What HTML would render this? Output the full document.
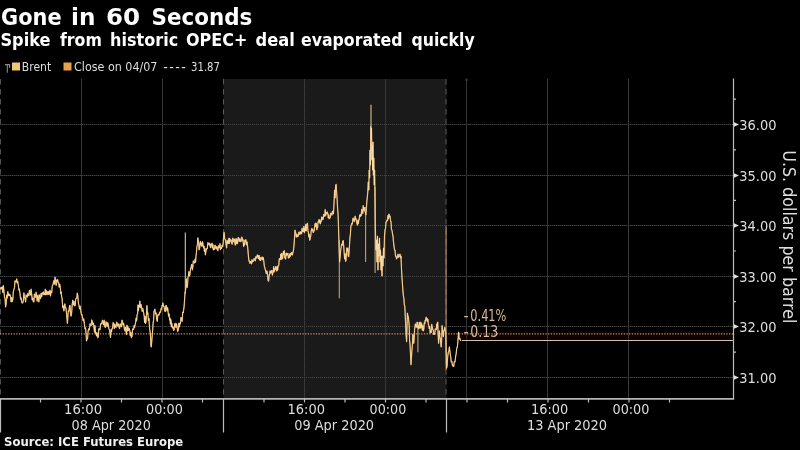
<!DOCTYPE html>
<html><head><meta charset="utf-8"><style>
html,body{margin:0;padding:0;background:#000;width:800px;height:450px;overflow:hidden}
svg{display:block}
.g0{stroke:#232323;stroke-width:1}
.g{stroke:#404040;stroke-width:1;stroke-dasharray:1,1}
.gv{stroke:#2e2e2e;stroke-width:1}
.ax{stroke:#bdbdbd;stroke-width:1.2}
text{font-family:"DejaVu Sans Condensed","DejaVu Sans",sans-serif;fill:#dedede}
.yl{font-size:14.8px}
.xl{font-size:14.2px}
.pl{font-size:15.6px;fill:#dcb894}
.yt{font-size:17.4px}
.lg{font-size:12.6px}
.t1{font-family:"DejaVu Sans",sans-serif;font-weight:bold;font-size:23px;fill:#fff}
.t2{font-family:"DejaVu Sans",sans-serif;font-weight:bold;font-size:17.2px;fill:#fff}
.src{font-family:"DejaVu Sans",sans-serif;font-weight:bold;font-size:11.7px;fill:#f0f0f0}
</style></head><body>
<svg width="800" height="450" viewBox="0 0 800 450">
<rect x="223.5" y="79" width="223" height="320" fill="#1a1a1a"/>
<line x1="0" y1="124.5" x2="733" y2="124.5" class="g0"/>
<line x1="0" y1="124.5" x2="733" y2="124.5" class="g"/>
<line x1="0" y1="175.5" x2="733" y2="175.5" class="g0"/>
<line x1="0" y1="175.5" x2="733" y2="175.5" class="g"/>
<line x1="0" y1="225.5" x2="733" y2="225.5" class="g0"/>
<line x1="0" y1="225.5" x2="733" y2="225.5" class="g"/>
<line x1="0" y1="276.5" x2="733" y2="276.5" class="g0"/>
<line x1="0" y1="276.5" x2="733" y2="276.5" class="g"/>
<line x1="0" y1="326.5" x2="733" y2="326.5" class="g0"/>
<line x1="0" y1="326.5" x2="733" y2="326.5" class="g"/>
<line x1="0" y1="377.5" x2="733" y2="377.5" class="g0"/>
<line x1="0" y1="377.5" x2="733" y2="377.5" class="g"/>
<line x1="81.5" y1="79" x2="81.5" y2="398" class="gv"/>
<line x1="81.5" y1="79" x2="81.5" y2="398" class="g"/>
<line x1="162.5" y1="79" x2="162.5" y2="398" class="gv"/>
<line x1="162.5" y1="79" x2="162.5" y2="398" class="g"/>
<line x1="304.5" y1="79" x2="304.5" y2="398" class="gv"/>
<line x1="304.5" y1="79" x2="304.5" y2="398" class="g"/>
<line x1="385.5" y1="79" x2="385.5" y2="398" class="gv"/>
<line x1="385.5" y1="79" x2="385.5" y2="398" class="g"/>
<line x1="547.5" y1="79" x2="547.5" y2="398" class="gv"/>
<line x1="547.5" y1="79" x2="547.5" y2="398" class="g"/>
<line x1="628.5" y1="79" x2="628.5" y2="398" class="gv"/>
<line x1="628.5" y1="79" x2="628.5" y2="398" class="g"/>
<line x1="446" y1="79" x2="446" y2="398" stroke="#585858" stroke-width="1" stroke-dasharray="5.5,4.5"/>
<line x1="223.5" y1="79" x2="223.5" y2="398" stroke="#585858" stroke-width="1" stroke-dasharray="5.5,4.5"/>
<line x1="0.5" y1="79" x2="0.5" y2="398" stroke="#505050" stroke-width="1" stroke-dasharray="5.5,4.5"/>
<line x1="466.5" y1="80" x2="466.5" y2="398" stroke="#333" stroke-width="1"/>
<path d="M464.5 80.5 L466.5 78.3 L468.5 80.5 Z" fill="#3a3a3a"/>
<rect x="447" y="332" width="286" height="9" fill="#3c0c06" fill-opacity="0.22"/>
<line x1="0" y1="333.8" x2="733" y2="333.8" stroke="#c49066" stroke-width="1.15" stroke-dasharray="1.3,1.4"/>
<line x1="462" y1="340.5" x2="733" y2="340.5" stroke="#d4beb6" stroke-width="1.2"/>
<line x1="185.3" y1="232.4" x2="185.3" y2="294" stroke="#d8c4a0" stroke-width="1.1"/>
<line x1="339.3" y1="240" x2="339.3" y2="298.3" stroke="#b8a07c" stroke-width="1.1"/>
<line x1="365.6" y1="207" x2="365.6" y2="262" stroke="#c0a070" stroke-width="1.1"/>
<line x1="375.1" y1="187" x2="375.1" y2="273" stroke="#c0a070" stroke-width="1.1"/>
<line x1="417.9" y1="322" x2="417.9" y2="352.2" stroke="#c0a484" stroke-width="1.1"/>
<line x1="446.1" y1="225.7" x2="446.1" y2="370" stroke="#b89060" stroke-width="1.1"/>
<line x1="371" y1="104.8" x2="371" y2="126" stroke="#e0c090" stroke-width="1.1"/>
<polyline points="0.0,288.3 0.6,289.0 1.1,287.0 1.7,289.0 2.2,287.2 2.8,292.4 3.3,285.5 3.9,290.5 4.5,297.4 5.0,298.0 5.6,307.0 6.2,303.6 6.7,295.0 7.2,298.2 7.8,291.6 8.3,295.7 8.9,293.9 9.5,295.6 10.0,294.7 10.6,297.0 11.1,301.8 11.7,297.6 12.2,301.7 12.8,299.6 13.3,292.0 13.9,289.4 14.5,287.6 15.0,280.8 15.6,281.7 16.1,281.9 16.7,278.9 17.2,282.9 17.8,281.6 18.3,285.0 18.9,290.2 19.4,289.0 20.0,293.9 20.6,299.2 21.1,297.8 21.7,301.7 22.2,303.1 22.8,302.8 23.4,300.2 23.9,292.8 24.4,297.3 25.0,298.3 25.6,302.0 26.1,294.9 26.7,296.1 27.2,297.1 27.8,293.3 28.3,295.0 28.9,295.8 29.4,290.3 30.0,292.2 30.6,295.1 31.1,289.2 31.7,294.4 32.2,299.8 32.8,298.0 33.3,301.7 33.9,302.0 34.4,294.0 35.0,296.1 35.6,297.3 36.1,292.2 36.7,297.2 37.2,301.1 37.8,295.2 38.3,298.3 38.9,301.9 39.4,294.8 40.0,297.2 40.5,298.8 41.1,293.4 41.7,296.6 42.2,292.8 42.8,293.9 43.3,291.9 43.9,294.9 44.4,293.3 44.9,294.4 45.3,289.2 45.8,295.0 46.2,290.6 46.7,292.8 47.2,294.6 47.8,291.5 48.4,294.4 48.9,291.7 49.5,294.2 50.0,290.1 50.5,296.0 51.1,291.7 51.7,292.6 52.2,286.2 52.8,285.0 53.3,283.5 53.9,280.6 54.5,284.1 55.0,277.2 55.6,281.1 56.2,285.3 56.8,279.8 57.2,281.4 57.7,279.7 58.1,282.6 58.6,282.4 59.2,287.2 59.7,284.2 60.3,287.8 60.8,293.7 61.2,291.9 61.6,296.7 62.1,298.4 62.7,307.6 63.3,305.8 63.9,310.9 64.8,303.8 65.4,308.0 66.0,307.9 66.6,314.4 67.4,323.3 68.3,310.9 68.9,311.4 69.5,305.9 70.1,305.6 70.5,313.4 71.0,316.2 71.6,313.3 72.2,304.4 72.8,300.2 73.4,305.0 74.0,301.3 74.6,305.6 75.2,305.6 75.7,299.0 76.3,298.4 76.8,298.2 77.3,293.1 77.8,295.8 78.4,303.0 79.0,305.6 79.6,309.0 80.2,306.2 80.8,310.9 81.4,314.7 82.0,314.5 82.6,318.0 83.2,320.9 83.7,318.8 84.3,323.3 84.9,328.6 85.5,327.9 86.1,334.0 86.5,341.0 87.0,339.3 87.6,338.2 88.2,330.5 88.8,328.7 89.4,330.0 90.0,323.8 90.6,325.1 91.2,325.5 91.7,319.9 92.3,321.6 92.9,325.0 93.5,323.0 94.1,328.7 94.5,332.1 95.0,325.7 95.5,333.5 95.9,332.2 96.5,335.9 97.1,332.8 97.7,337.6 98.3,336.8 98.8,328.8 99.4,328.7 100.0,329.6 100.6,324.0 101.2,323.3 101.8,324.0 102.4,320.2 103.0,321.6 103.6,325.0 104.2,320.2 104.8,326.9 105.4,327.4 106.0,321.7 106.6,323.3 107.2,326.7 107.7,322.6 108.3,325.1 108.9,328.7 109.5,330.0 110.1,334.0 110.5,337.4 111.0,329.6 111.5,332.0 111.9,328.7 112.5,328.7 113.1,322.6 113.7,323.3 114.3,328.7 114.8,324.4 115.4,326.9 116.0,327.5 116.6,322.1 117.2,323.3 117.8,326.2 118.4,323.9 119.0,326.9 119.6,328.6 120.2,323.8 120.8,325.1 121.4,326.8 122.0,320.1 122.6,321.6 123.2,325.2 123.7,323.5 124.3,328.7 124.9,330.8 125.5,327.1 126.1,332.2 126.5,334.4 127.0,325.1 127.5,331.0 127.9,326.9 128.5,330.4 129.1,328.3 129.7,330.4 130.3,335.7 130.8,332.3 131.4,337.6 132.0,336.4 132.6,329.1 133.2,328.7 133.6,329.4 134.1,325.5 134.6,327.4 135.0,325.1 135.5,323.1 136.1,318.1 136.6,320.8 137.1,314.4 137.6,314.0 138.0,304.9 138.4,310.7 138.9,305.6 139.4,306.9 139.8,301.1 140.4,307.8 141.0,304.3 141.6,307.3 142.2,311.3 142.7,308.5 143.3,310.9 144.2,316.2 144.6,322.5 145.1,316.6 145.6,323.4 146.0,321.6 146.4,315.2 146.9,305.6 147.4,314.1 147.8,312.7 148.4,320.6 149.0,318.6 149.6,328.7 150.4,334.0 150.9,345.3 151.3,347.0 152.2,335.8 152.6,331.0 153.1,323.3 153.6,319.9 154.0,310.9 154.4,310.9 154.9,309.1 155.5,313.8 156.1,312.9 156.7,319.8 157.3,321.4 157.8,314.9 158.4,314.4 159.0,315.1 159.6,312.2 160.2,312.7 160.6,311.6 161.1,308.5 161.6,309.3 162.0,305.6 162.4,306.0 162.9,302.9 163.5,306.4 164.1,306.6 164.7,310.9 165.3,311.7 165.8,305.6 166.4,305.6 167.0,310.9 167.6,307.7 168.2,312.7 168.6,316.2 169.1,313.9 169.6,319.9 170.0,318.0 170.4,323.9 170.9,319.7 171.4,326.7 171.8,323.3 172.4,327.9 173.0,326.9 173.6,330.4 174.2,329.7 174.7,324.0 175.3,323.3 175.9,327.4 176.5,323.8 177.1,326.9 177.6,331.6 178.0,330.4 178.4,330.1 178.9,323.0 179.4,326.9 179.8,323.3 180.4,323.9 181.0,317.4 181.6,319.8 182.2,321.3 182.7,312.0 183.3,312.7 184.2,305.6 185.0,293.1 185.6,290.0 186.2,278.7 186.6,284.3 187.1,287.6 187.6,284.1 188.0,276.9 188.4,276.4 188.9,271.6 189.4,276.1 189.8,275.1 190.7,268.0 191.1,267.6 191.6,264.4 192.4,269.8 192.9,266.3 193.3,260.9 194.2,262.7 194.6,263.0 195.1,259.1 195.6,262.1 196.0,255.6 196.4,253.3 196.9,246.7 197.4,244.8 197.8,237.8 198.7,243.1 199.1,249.8 199.6,248.4 200.4,241.3 200.9,244.8 201.3,243.1 201.9,246.3 202.5,241.6 203.1,244.9 203.6,248.0 204.0,246.0 204.4,251.3 204.9,248.4 205.4,255.0 205.8,252.0 206.7,248.4 207.3,248.7 207.8,242.6 208.4,243.1 209.0,244.9 209.6,243.1 210.2,246.7 210.6,247.7 211.1,244.1 211.6,245.2 212.0,243.1 212.4,248.0 212.9,244.7 213.4,250.0 213.8,248.4 214.4,249.4 215.0,245.0 215.6,246.7 216.2,249.1 216.7,246.5 217.3,247.6 217.9,250.8 218.5,245.7 219.1,246.7 219.6,247.6 220.0,243.6 220.4,249.6 220.9,247.6 221.5,248.6 222.1,245.3 222.7,246.7 223.2,242.8 223.6,236.1 224.1,232.4 224.7,238.8 225.3,239.6 226.2,244.9 226.6,248.0 227.1,240.2 227.6,243.4 228.0,241.3 228.4,243.5 228.9,238.0 229.4,243.5 229.8,238.7 230.4,241.1 231.0,239.8 231.6,243.1 232.2,244.2 232.7,238.0 233.3,239.6 233.9,242.0 234.5,239.1 235.1,244.9 235.6,244.9 236.0,238.5 236.4,243.5 236.9,239.6 237.5,243.6 238.1,237.5 238.7,237.8 239.3,241.3 239.8,238.8 240.4,241.3 241.0,241.7 241.6,237.0 242.2,237.8 242.6,240.8 243.1,239.7 243.6,246.5 244.0,243.1 244.4,245.1 244.9,240.1 245.4,241.5 245.8,239.6 246.4,244.9 247.0,241.8 247.6,246.7 248.4,255.6 248.9,261.0 249.3,260.9 249.9,263.4 250.5,261.4 251.1,262.7 251.6,263.9 252.0,259.7 252.4,262.1 252.9,260.9 253.5,261.2 254.1,258.3 254.7,259.1 255.3,260.9 255.8,256.7 256.4,257.3 256.8,258.2 257.3,254.9 257.8,257.0 258.2,255.6 258.6,258.8 259.1,255.3 259.6,259.9 260.0,257.3 260.3,260.4 260.8,260.5 261.2,257.8 261.7,258.6 262.1,256.9 262.7,259.9 263.3,257.7 263.9,262.2 264.4,266.5 264.8,267.6 265.7,271.1 266.3,273.6 266.8,270.9 267.4,272.9 268.1,280.5 268.6,281.2 269.2,274.7 269.6,274.7 270.1,270.8 270.6,273.1 271.0,271.1 271.4,272.7 271.9,270.3 272.4,275.1 272.8,272.9 273.2,272.7 273.7,266.6 274.2,271.9 274.6,269.3 275.2,269.9 275.7,266.5 276.3,269.3 276.8,271.1 277.2,266.4 277.7,270.0 278.1,265.8 278.7,265.7 279.3,258.7 279.9,258.7 280.3,259.8 280.8,254.1 281.2,259.3 281.7,253.3 282.1,258.8 282.6,258.7 283.4,251.6 283.8,254.3 284.3,250.7 284.8,257.9 285.2,256.9 285.6,259.1 286.1,253.1 286.6,255.3 287.0,253.3 287.4,254.8 287.9,253.4 288.4,258.1 288.8,256.9 289.2,257.7 289.7,253.9 290.2,256.5 290.6,253.3 291.2,254.6 291.7,252.3 292.3,255.1 293.2,251.6 293.6,249.2 294.1,244.4 295.0,230.2 295.9,233.8 296.3,237.1 296.8,234.0 297.2,236.8 297.7,235.6 298.3,236.1 298.8,232.0 299.4,233.8 299.8,234.4 300.3,231.6 300.8,233.6 301.2,232.0 301.6,234.0 302.1,228.2 302.6,231.7 303.0,230.2 303.4,231.4 303.9,226.4 304.4,232.7 304.8,228.4 305.2,230.9 305.7,224.4 306.2,231.0 306.6,226.7 307.4,223.1 307.9,230.3 308.3,232.0 308.8,236.8 309.2,234.2 309.7,240.2 310.1,239.1 310.7,236.2 311.3,230.5 311.9,228.4 312.3,230.7 312.8,229.6 313.2,232.5 313.7,232.0 314.3,229.9 314.8,225.0 315.4,223.1 315.8,226.6 316.3,223.3 316.8,229.8 317.2,226.7 317.6,227.7 318.1,221.7 318.6,222.0 319.0,219.6 319.4,222.6 319.9,219.8 320.4,224.0 320.8,221.3 321.2,221.6 321.7,216.8 322.2,219.9 322.6,217.8 323.2,219.3 323.7,214.3 324.3,216.0 324.8,216.4 325.2,209.6 325.7,215.4 326.1,212.4 326.7,213.7 327.3,211.9 327.9,214.2 328.3,218.0 328.8,214.8 329.2,218.7 329.7,217.8 330.3,217.6 330.8,213.0 331.4,214.2 331.9,215.1 332.5,211.0 333.4,214.0 334.2,200.0 334.6,190.0 335.1,198.0 335.6,186.0 336.1,184.4 336.6,192.0 337.2,200.2 337.6,208.7 338.1,214.4 338.9,240.0 339.6,262.0 340.1,257.5 340.7,250.0 341.1,247.9 341.6,244.2 342.2,245.4 342.7,241.1 343.3,240.7 344.2,253.1 344.6,259.0 345.1,253.7 345.6,261.4 346.0,260.2 346.9,247.8 347.3,250.8 347.8,248.2 348.2,256.1 348.7,256.7 349.3,248.8 349.9,237.6 350.4,234.5 350.8,226.9 351.7,223.3 352.3,224.2 352.8,218.9 353.4,218.0 353.9,221.1 354.3,221.6 355.2,216.2 355.6,219.5 356.1,218.7 356.6,222.7 357.0,223.3 357.4,225.1 357.9,220.2 358.4,223.7 358.8,219.8 359.2,219.6 359.7,214.9 360.2,216.6 360.6,214.4 361.2,215.8 361.7,209.3 362.3,210.9 362.8,213.6 363.2,205.7 363.7,210.2 364.1,207.3 364.8,211.1 365.4,212.0 365.8,215.0 366.3,210.2 366.8,202.0 367.7,193.1 368.3,182.0 368.8,190.0 369.2,170.0 369.6,178.0 370.0,150.0 370.4,165.0 370.8,126.0 371.2,140.0 371.5,128.0 371.9,160.0 372.2,145.0 372.6,170.0 373.0,142.0 373.4,175.0 373.8,158.0 374.2,185.0 374.6,170.0 374.9,190.0 375.4,230.0 376.0,250.0 376.5,240.0 377.0,262.0 377.5,236.0 378.0,270.0 378.5,244.0 379.0,256.0 379.5,238.0 380.0,262.0 380.5,250.0 381.0,270.0 381.5,256.0 382.0,276.0 382.5,256.0 383.0,266.0 383.5,248.0 384.0,258.0 384.5,236.0 385.0,230.0 385.5,228.5 386.0,222.0 386.5,221.9 387.0,220.0 387.5,220.6 388.0,215.5 388.5,218.9 389.0,214.0 389.5,217.0 390.0,216.0 390.5,220.1 391.0,222.0 391.5,229.7 392.0,230.0 392.5,234.0 393.0,236.0 393.5,242.1 394.0,246.0 394.5,249.9 395.0,250.0 395.5,256.2 396.0,256.0 396.5,258.9 397.0,258.0 397.5,256.8 398.0,254.0 398.5,257.3 399.0,256.0 399.5,256.3 400.0,254.0 400.5,257.9 401.0,256.0 401.5,269.0 402.0,278.0 402.9,290.4 403.4,295.6 403.8,297.6 404.3,304.8 404.8,306.0 405.7,325.6 406.1,334.7 406.6,341.6 407.4,313.1 407.9,316.0 408.3,316.7 409.2,325.6 409.6,340.2 410.1,345.1 411.0,364.7 411.9,350.4 412.4,345.0 412.8,334.4 413.7,343.3 414.1,338.9 414.6,329.1 415.4,323.8 415.9,326.5 416.3,327.3 417.2,322.0 417.8,328.0 418.3,325.6 418.8,329.0 419.4,322.4 419.9,327.3 420.3,328.2 420.8,322.0 421.2,327.5 421.7,323.8 422.3,330.2 422.8,325.6 423.4,330.9 423.8,329.1 424.3,322.6 424.8,323.6 425.2,320.2 425.6,321.3 426.1,317.2 426.6,319.8 427.0,318.4 427.4,321.3 427.9,319.4 428.4,324.8 428.8,325.6 429.2,328.5 429.7,326.7 430.2,333.1 430.6,330.9 431.2,332.5 431.7,324.3 432.3,327.3 432.8,329.8 433.2,330.0 433.7,334.5 434.1,334.4 434.7,334.0 435.3,328.9 435.9,329.1 436.3,329.5 436.8,323.9 437.2,328.1 437.7,322.0 438.1,333.8 438.6,343.3 439.4,330.9 439.8,337.4 440.3,337.9 440.8,343.8 441.2,346.9 441.6,340.2 442.1,325.6 443.0,334.4 443.4,336.6 443.9,330.2 444.4,329.9 444.8,327.3 445.7,332.7 446.6,368.2 447.2,365.3 447.7,356.8 448.3,352.2 448.9,351.1 449.4,346.9 450.0,352.7 450.7,356.7 451.3,362.1 451.9,361.6 452.5,366.0 453.1,365.2 453.7,366.4 454.3,361.6 455.0,362.0 455.6,356.7 456.2,353.4 456.8,348.1 457.4,346.7 458.0,339.6 458.6,332.2 459.2,339.0 459.8,338.3 460.5,340.5 461.1,340.8" fill="none" stroke="#e6aa5a" stroke-width="1.2" stroke-linejoin="round"/>
<polyline points="0.0,288.3 0.6,289.0 1.1,287.0 1.7,289.0 2.2,287.2 2.8,292.4 3.3,285.5 3.9,290.5 4.5,297.4 5.0,298.0 5.6,307.0 6.2,303.6 6.7,295.0 7.2,298.2 7.8,291.6 8.3,295.7 8.9,293.9 9.5,295.6 10.0,294.7 10.6,297.0 11.1,301.8 11.7,297.6 12.2,301.7 12.8,299.6 13.3,292.0 13.9,289.4 14.5,287.6 15.0,280.8 15.6,281.7 16.1,281.9 16.7,278.9 17.2,282.9 17.8,281.6 18.3,285.0 18.9,290.2 19.4,289.0 20.0,293.9 20.6,299.2 21.1,297.8 21.7,301.7 22.2,303.1 22.8,302.8 23.4,300.2 23.9,292.8 24.4,297.3 25.0,298.3 25.6,302.0 26.1,294.9 26.7,296.1 27.2,297.1 27.8,293.3 28.3,295.0 28.9,295.8 29.4,290.3 30.0,292.2 30.6,295.1 31.1,289.2 31.7,294.4 32.2,299.8 32.8,298.0 33.3,301.7 33.9,302.0 34.4,294.0 35.0,296.1 35.6,297.3 36.1,292.2 36.7,297.2 37.2,301.1 37.8,295.2 38.3,298.3 38.9,301.9 39.4,294.8 40.0,297.2 40.5,298.8 41.1,293.4 41.7,296.6 42.2,292.8 42.8,293.9 43.3,291.9 43.9,294.9 44.4,293.3 44.9,294.4 45.3,289.2 45.8,295.0 46.2,290.6 46.7,292.8 47.2,294.6 47.8,291.5 48.4,294.4 48.9,291.7 49.5,294.2 50.0,290.1 50.5,296.0 51.1,291.7 51.7,292.6 52.2,286.2 52.8,285.0 53.3,283.5 53.9,280.6 54.5,284.1 55.0,277.2 55.6,281.1 56.2,285.3 56.8,279.8 57.2,281.4 57.7,279.7 58.1,282.6 58.6,282.4 59.2,287.2 59.7,284.2 60.3,287.8 60.8,293.7 61.2,291.9 61.6,296.7 62.1,298.4 62.7,307.6 63.3,305.8 63.9,310.9 64.8,303.8 65.4,308.0 66.0,307.9 66.6,314.4 67.4,323.3 68.3,310.9 68.9,311.4 69.5,305.9 70.1,305.6 70.5,313.4 71.0,316.2 71.6,313.3 72.2,304.4 72.8,300.2 73.4,305.0 74.0,301.3 74.6,305.6 75.2,305.6 75.7,299.0 76.3,298.4 76.8,298.2 77.3,293.1 77.8,295.8 78.4,303.0 79.0,305.6 79.6,309.0 80.2,306.2 80.8,310.9 81.4,314.7 82.0,314.5 82.6,318.0 83.2,320.9 83.7,318.8 84.3,323.3 84.9,328.6 85.5,327.9 86.1,334.0 86.5,341.0 87.0,339.3 87.6,338.2 88.2,330.5 88.8,328.7 89.4,330.0 90.0,323.8 90.6,325.1 91.2,325.5 91.7,319.9 92.3,321.6 92.9,325.0 93.5,323.0 94.1,328.7 94.5,332.1 95.0,325.7 95.5,333.5 95.9,332.2 96.5,335.9 97.1,332.8 97.7,337.6 98.3,336.8 98.8,328.8 99.4,328.7 100.0,329.6 100.6,324.0 101.2,323.3 101.8,324.0 102.4,320.2 103.0,321.6 103.6,325.0 104.2,320.2 104.8,326.9 105.4,327.4 106.0,321.7 106.6,323.3 107.2,326.7 107.7,322.6 108.3,325.1 108.9,328.7 109.5,330.0 110.1,334.0 110.5,337.4 111.0,329.6 111.5,332.0 111.9,328.7 112.5,328.7 113.1,322.6 113.7,323.3 114.3,328.7 114.8,324.4 115.4,326.9 116.0,327.5 116.6,322.1 117.2,323.3 117.8,326.2 118.4,323.9 119.0,326.9 119.6,328.6 120.2,323.8 120.8,325.1 121.4,326.8 122.0,320.1 122.6,321.6 123.2,325.2 123.7,323.5 124.3,328.7 124.9,330.8 125.5,327.1 126.1,332.2 126.5,334.4 127.0,325.1 127.5,331.0 127.9,326.9 128.5,330.4 129.1,328.3 129.7,330.4 130.3,335.7 130.8,332.3 131.4,337.6 132.0,336.4 132.6,329.1 133.2,328.7 133.6,329.4 134.1,325.5 134.6,327.4 135.0,325.1 135.5,323.1 136.1,318.1 136.6,320.8 137.1,314.4 137.6,314.0 138.0,304.9 138.4,310.7 138.9,305.6 139.4,306.9 139.8,301.1 140.4,307.8 141.0,304.3 141.6,307.3 142.2,311.3 142.7,308.5 143.3,310.9 144.2,316.2 144.6,322.5 145.1,316.6 145.6,323.4 146.0,321.6 146.4,315.2 146.9,305.6 147.4,314.1 147.8,312.7 148.4,320.6 149.0,318.6 149.6,328.7 150.4,334.0 150.9,345.3 151.3,347.0 152.2,335.8 152.6,331.0 153.1,323.3 153.6,319.9 154.0,310.9 154.4,310.9 154.9,309.1 155.5,313.8 156.1,312.9 156.7,319.8 157.3,321.4 157.8,314.9 158.4,314.4 159.0,315.1 159.6,312.2 160.2,312.7 160.6,311.6 161.1,308.5 161.6,309.3 162.0,305.6 162.4,306.0 162.9,302.9 163.5,306.4 164.1,306.6 164.7,310.9 165.3,311.7 165.8,305.6 166.4,305.6 167.0,310.9 167.6,307.7 168.2,312.7 168.6,316.2 169.1,313.9 169.6,319.9 170.0,318.0 170.4,323.9 170.9,319.7 171.4,326.7 171.8,323.3 172.4,327.9 173.0,326.9 173.6,330.4 174.2,329.7 174.7,324.0 175.3,323.3 175.9,327.4 176.5,323.8 177.1,326.9 177.6,331.6 178.0,330.4 178.4,330.1 178.9,323.0 179.4,326.9 179.8,323.3 180.4,323.9 181.0,317.4 181.6,319.8 182.2,321.3 182.7,312.0 183.3,312.7 184.2,305.6 185.0,293.1 185.6,290.0 186.2,278.7 186.6,284.3 187.1,287.6 187.6,284.1 188.0,276.9 188.4,276.4 188.9,271.6 189.4,276.1 189.8,275.1 190.7,268.0 191.1,267.6 191.6,264.4 192.4,269.8 192.9,266.3 193.3,260.9 194.2,262.7 194.6,263.0 195.1,259.1 195.6,262.1 196.0,255.6 196.4,253.3 196.9,246.7 197.4,244.8 197.8,237.8 198.7,243.1 199.1,249.8 199.6,248.4 200.4,241.3 200.9,244.8 201.3,243.1 201.9,246.3 202.5,241.6 203.1,244.9 203.6,248.0 204.0,246.0 204.4,251.3 204.9,248.4 205.4,255.0 205.8,252.0 206.7,248.4 207.3,248.7 207.8,242.6 208.4,243.1 209.0,244.9 209.6,243.1 210.2,246.7 210.6,247.7 211.1,244.1 211.6,245.2 212.0,243.1 212.4,248.0 212.9,244.7 213.4,250.0 213.8,248.4 214.4,249.4 215.0,245.0 215.6,246.7 216.2,249.1 216.7,246.5 217.3,247.6 217.9,250.8 218.5,245.7 219.1,246.7 219.6,247.6 220.0,243.6 220.4,249.6 220.9,247.6 221.5,248.6 222.1,245.3 222.7,246.7 223.2,242.8 223.6,236.1 224.1,232.4 224.7,238.8 225.3,239.6 226.2,244.9 226.6,248.0 227.1,240.2 227.6,243.4 228.0,241.3 228.4,243.5 228.9,238.0 229.4,243.5 229.8,238.7 230.4,241.1 231.0,239.8 231.6,243.1 232.2,244.2 232.7,238.0 233.3,239.6 233.9,242.0 234.5,239.1 235.1,244.9 235.6,244.9 236.0,238.5 236.4,243.5 236.9,239.6 237.5,243.6 238.1,237.5 238.7,237.8 239.3,241.3 239.8,238.8 240.4,241.3 241.0,241.7 241.6,237.0 242.2,237.8 242.6,240.8 243.1,239.7 243.6,246.5 244.0,243.1 244.4,245.1 244.9,240.1 245.4,241.5 245.8,239.6 246.4,244.9 247.0,241.8 247.6,246.7 248.4,255.6 248.9,261.0 249.3,260.9 249.9,263.4 250.5,261.4 251.1,262.7 251.6,263.9 252.0,259.7 252.4,262.1 252.9,260.9 253.5,261.2 254.1,258.3 254.7,259.1 255.3,260.9 255.8,256.7 256.4,257.3 256.8,258.2 257.3,254.9 257.8,257.0 258.2,255.6 258.6,258.8 259.1,255.3 259.6,259.9 260.0,257.3 260.3,260.4 260.8,260.5 261.2,257.8 261.7,258.6 262.1,256.9 262.7,259.9 263.3,257.7 263.9,262.2 264.4,266.5 264.8,267.6 265.7,271.1 266.3,273.6 266.8,270.9 267.4,272.9 268.1,280.5 268.6,281.2 269.2,274.7 269.6,274.7 270.1,270.8 270.6,273.1 271.0,271.1 271.4,272.7 271.9,270.3 272.4,275.1 272.8,272.9 273.2,272.7 273.7,266.6 274.2,271.9 274.6,269.3 275.2,269.9 275.7,266.5 276.3,269.3 276.8,271.1 277.2,266.4 277.7,270.0 278.1,265.8 278.7,265.7 279.3,258.7 279.9,258.7 280.3,259.8 280.8,254.1 281.2,259.3 281.7,253.3 282.1,258.8 282.6,258.7 283.4,251.6 283.8,254.3 284.3,250.7 284.8,257.9 285.2,256.9 285.6,259.1 286.1,253.1 286.6,255.3 287.0,253.3 287.4,254.8 287.9,253.4 288.4,258.1 288.8,256.9 289.2,257.7 289.7,253.9 290.2,256.5 290.6,253.3 291.2,254.6 291.7,252.3 292.3,255.1 293.2,251.6 293.6,249.2 294.1,244.4 295.0,230.2 295.9,233.8 296.3,237.1 296.8,234.0 297.2,236.8 297.7,235.6 298.3,236.1 298.8,232.0 299.4,233.8 299.8,234.4 300.3,231.6 300.8,233.6 301.2,232.0 301.6,234.0 302.1,228.2 302.6,231.7 303.0,230.2 303.4,231.4 303.9,226.4 304.4,232.7 304.8,228.4 305.2,230.9 305.7,224.4 306.2,231.0 306.6,226.7 307.4,223.1 307.9,230.3 308.3,232.0 308.8,236.8 309.2,234.2 309.7,240.2 310.1,239.1 310.7,236.2 311.3,230.5 311.9,228.4 312.3,230.7 312.8,229.6 313.2,232.5 313.7,232.0 314.3,229.9 314.8,225.0 315.4,223.1 315.8,226.6 316.3,223.3 316.8,229.8 317.2,226.7 317.6,227.7 318.1,221.7 318.6,222.0 319.0,219.6 319.4,222.6 319.9,219.8 320.4,224.0 320.8,221.3 321.2,221.6 321.7,216.8 322.2,219.9 322.6,217.8 323.2,219.3 323.7,214.3 324.3,216.0 324.8,216.4 325.2,209.6 325.7,215.4 326.1,212.4 326.7,213.7 327.3,211.9 327.9,214.2 328.3,218.0 328.8,214.8 329.2,218.7 329.7,217.8 330.3,217.6 330.8,213.0 331.4,214.2 331.9,215.1 332.5,211.0 333.4,214.0 334.2,200.0 334.6,190.0 335.1,198.0 335.6,186.0 336.1,184.4 336.6,192.0 337.2,200.2 337.6,208.7 338.1,214.4 338.9,240.0 339.6,262.0 340.1,257.5 340.7,250.0 341.1,247.9 341.6,244.2 342.2,245.4 342.7,241.1 343.3,240.7 344.2,253.1 344.6,259.0 345.1,253.7 345.6,261.4 346.0,260.2 346.9,247.8 347.3,250.8 347.8,248.2 348.2,256.1 348.7,256.7 349.3,248.8 349.9,237.6 350.4,234.5 350.8,226.9 351.7,223.3 352.3,224.2 352.8,218.9 353.4,218.0 353.9,221.1 354.3,221.6 355.2,216.2 355.6,219.5 356.1,218.7 356.6,222.7 357.0,223.3 357.4,225.1 357.9,220.2 358.4,223.7 358.8,219.8 359.2,219.6 359.7,214.9 360.2,216.6 360.6,214.4 361.2,215.8 361.7,209.3 362.3,210.9 362.8,213.6 363.2,205.7 363.7,210.2 364.1,207.3 364.8,211.1 365.4,212.0 365.8,215.0 366.3,210.2 366.8,202.0 367.7,193.1 368.3,182.0 368.8,190.0 369.2,170.0 369.6,178.0 370.0,150.0 370.4,165.0 370.8,126.0 371.2,140.0 371.5,128.0 371.9,160.0 372.2,145.0 372.6,170.0 373.0,142.0 373.4,175.0 373.8,158.0 374.2,185.0 374.6,170.0 374.9,190.0 375.4,230.0 376.0,250.0 376.5,240.0 377.0,262.0 377.5,236.0 378.0,270.0 378.5,244.0 379.0,256.0 379.5,238.0 380.0,262.0 380.5,250.0 381.0,270.0 381.5,256.0 382.0,276.0 382.5,256.0 383.0,266.0 383.5,248.0 384.0,258.0 384.5,236.0 385.0,230.0 385.5,228.5 386.0,222.0 386.5,221.9 387.0,220.0 387.5,220.6 388.0,215.5 388.5,218.9 389.0,214.0 389.5,217.0 390.0,216.0 390.5,220.1 391.0,222.0 391.5,229.7 392.0,230.0 392.5,234.0 393.0,236.0 393.5,242.1 394.0,246.0 394.5,249.9 395.0,250.0 395.5,256.2 396.0,256.0 396.5,258.9 397.0,258.0 397.5,256.8 398.0,254.0 398.5,257.3 399.0,256.0 399.5,256.3 400.0,254.0 400.5,257.9 401.0,256.0 401.5,269.0 402.0,278.0 402.9,290.4 403.4,295.6 403.8,297.6 404.3,304.8 404.8,306.0 405.7,325.6 406.1,334.7 406.6,341.6 407.4,313.1 407.9,316.0 408.3,316.7 409.2,325.6 409.6,340.2 410.1,345.1 411.0,364.7 411.9,350.4 412.4,345.0 412.8,334.4 413.7,343.3 414.1,338.9 414.6,329.1 415.4,323.8 415.9,326.5 416.3,327.3 417.2,322.0 417.8,328.0 418.3,325.6 418.8,329.0 419.4,322.4 419.9,327.3 420.3,328.2 420.8,322.0 421.2,327.5 421.7,323.8 422.3,330.2 422.8,325.6 423.4,330.9 423.8,329.1 424.3,322.6 424.8,323.6 425.2,320.2 425.6,321.3 426.1,317.2 426.6,319.8 427.0,318.4 427.4,321.3 427.9,319.4 428.4,324.8 428.8,325.6 429.2,328.5 429.7,326.7 430.2,333.1 430.6,330.9 431.2,332.5 431.7,324.3 432.3,327.3 432.8,329.8 433.2,330.0 433.7,334.5 434.1,334.4 434.7,334.0 435.3,328.9 435.9,329.1 436.3,329.5 436.8,323.9 437.2,328.1 437.7,322.0 438.1,333.8 438.6,343.3 439.4,330.9 439.8,337.4 440.3,337.9 440.8,343.8 441.2,346.9 441.6,340.2 442.1,325.6 443.0,334.4 443.4,336.6 443.9,330.2 444.4,329.9 444.8,327.3 445.7,332.7 446.6,368.2 447.2,365.3 447.7,356.8 448.3,352.2 448.9,351.1 449.4,346.9 450.0,352.7 450.7,356.7 451.3,362.1 451.9,361.6 452.5,366.0 453.1,365.2 453.7,366.4 454.3,361.6 455.0,362.0 455.6,356.7 456.2,353.4 456.8,348.1 457.4,346.7 458.0,339.6 458.6,332.2 459.2,339.0 459.8,338.3 460.5,340.5 461.1,340.8" fill="none" stroke="#fce8c0" stroke-width="0.5" stroke-linejoin="round"/>
<line x1="0" y1="398.9" x2="734.2" y2="398.9" class="ax" style="stroke-width:1.6;stroke:#b4b4b4"/>
<line x1="733.5" y1="78.5" x2="733.5" y2="399" class="ax"/>
<line x1="40.5" y1="399" x2="40.5" y2="402.5" class="ax"/>
<line x1="81" y1="399" x2="81" y2="402.5" class="ax"/>
<line x1="121.5" y1="399" x2="121.5" y2="402.5" class="ax"/>
<line x1="162" y1="399" x2="162" y2="402.5" class="ax"/>
<line x1="202.5" y1="399" x2="202.5" y2="402.5" class="ax"/>
<line x1="264" y1="399" x2="264" y2="402.5" class="ax"/>
<line x1="304.5" y1="399" x2="304.5" y2="402.5" class="ax"/>
<line x1="345" y1="399" x2="345" y2="402.5" class="ax"/>
<line x1="385.5" y1="399" x2="385.5" y2="402.5" class="ax"/>
<line x1="426" y1="399" x2="426" y2="402.5" class="ax"/>
<line x1="467" y1="399" x2="467" y2="402.5" class="ax"/>
<line x1="507.5" y1="399" x2="507.5" y2="402.5" class="ax"/>
<line x1="548" y1="399" x2="548" y2="402.5" class="ax"/>
<line x1="588.5" y1="399" x2="588.5" y2="402.5" class="ax"/>
<line x1="629" y1="399" x2="629" y2="402.5" class="ax"/>
<line x1="669.5" y1="399" x2="669.5" y2="402.5" class="ax"/>
<line x1="0.5" y1="399" x2="0.5" y2="432.5" class="ax"/>
<line x1="223.5" y1="399" x2="223.5" y2="432.5" class="ax"/>
<line x1="446.5" y1="399" x2="446.5" y2="432.5" class="ax"/>
<line x1="734" y1="99.2" x2="736" y2="99.2" class="ax"/>
<line x1="734" y1="149.8" x2="736" y2="149.8" class="ax"/>
<line x1="734" y1="200.4" x2="736" y2="200.4" class="ax"/>
<line x1="734" y1="251.0" x2="736" y2="251.0" class="ax"/>
<line x1="734" y1="301.6" x2="736" y2="301.6" class="ax"/>
<line x1="734" y1="352.2" x2="736" y2="352.2" class="ax"/>
<path d="M734 122.3 L739 124.5 L734 126.7 Z" fill="#e0e0e0"/>
<path d="M734 173.3 L739 175.5 L734 177.7 Z" fill="#e0e0e0"/>
<path d="M734 223.3 L739 225.5 L734 227.7 Z" fill="#e0e0e0"/>
<path d="M734 274.3 L739 276.5 L734 278.7 Z" fill="#e0e0e0"/>
<path d="M734 324.3 L739 326.5 L734 328.7 Z" fill="#e0e0e0"/>
<path d="M734 375.3 L739 377.5 L734 379.7 Z" fill="#e0e0e0"/>
<text x="463.6" y="320.6" class="pl" style="font-size:15.6px">-</text>
<text x="463.6" y="337.4" class="pl" style="font-size:15.6px">-</text>
<text transform="translate(783.3 150.28) rotate(90)" class="yt" textLength="173.09" lengthAdjust="spacingAndGlyphs">U.S. dollars per barrel</text>
<path d="M5 64.6 H9.6 V68 M7.3 64.6 V72.7" stroke="#8a8a8a" stroke-width="1.1" fill="none"/>
<rect x="12" y="62.5" width="8" height="8" fill="#f0c878"/>
<rect x="63.5" y="62.5" width="8" height="8" fill="#e6a24c"/>
<text x="163.3 169.3 175.3 181.3" y="72.0" class="lg" style="font-size:14px">----</text>
<text x="739.22" y="130.1" class="yl" textLength="37.23" lengthAdjust="spacingAndGlyphs">36.00</text>
<text x="739.22" y="181.1" class="yl" textLength="37.23" lengthAdjust="spacingAndGlyphs">35.00</text>
<text x="739.22" y="231.1" class="yl" textLength="37.23" lengthAdjust="spacingAndGlyphs">34.00</text>
<text x="739.22" y="282.1" class="yl" textLength="37.23" lengthAdjust="spacingAndGlyphs">33.00</text>
<text x="739.22" y="332.1" class="yl" textLength="37.23" lengthAdjust="spacingAndGlyphs">32.00</text>
<text x="739.22" y="383.1" class="yl" textLength="37.23" lengthAdjust="spacingAndGlyphs">31.00</text>
<text x="63.96" y="413.6" class="xl" textLength="38.16" lengthAdjust="spacingAndGlyphs">16:00</text>
<text x="146.00" y="413.6" class="xl" textLength="36.92" lengthAdjust="spacingAndGlyphs">00:00</text>
<text x="287.48" y="413.6" class="xl" textLength="37.44" lengthAdjust="spacingAndGlyphs">16:00</text>
<text x="369.60" y="413.6" class="xl" textLength="36.62" lengthAdjust="spacingAndGlyphs">00:00</text>
<text x="530.99" y="413.6" class="xl" textLength="37.13" lengthAdjust="spacingAndGlyphs">16:00</text>
<text x="612.50" y="413.6" class="xl" textLength="36.82" lengthAdjust="spacingAndGlyphs">00:00</text>
<text x="71.50" y="429.6" class="xl" textLength="79.32" lengthAdjust="spacingAndGlyphs">08 Apr 2020</text>
<text x="294.20" y="429.6" class="xl" textLength="79.92" lengthAdjust="spacingAndGlyphs">09 Apr 2020</text>
<text x="526.98" y="429.6" class="xl" textLength="80.14" lengthAdjust="spacingAndGlyphs">13 Apr 2020</text>
<text x="470.30" y="320.6" class="pl" textLength="36.07" lengthAdjust="spacingAndGlyphs">0.41%</text>
<text x="470.30" y="337.4" class="pl" textLength="27.93" lengthAdjust="spacingAndGlyphs">0.13</text>
<text x="21.85" y="70.7" class="lg" textLength="29.32" lengthAdjust="spacingAndGlyphs">Brent</text>
<text x="74.00" y="70.7" class="lg" textLength="83.40" lengthAdjust="spacingAndGlyphs">Close on 04/07</text>
<text x="191.00" y="70.7" class="lg" textLength="28.99" lengthAdjust="spacingAndGlyphs">31.87</text>
<text x="1.09" y="25.1" class="t1" textLength="60.45" lengthAdjust="spacingAndGlyphs">Gone</text>
<text x="70.99" y="25.1" class="t1" textLength="24.39" lengthAdjust="spacingAndGlyphs">in</text>
<text x="105.93" y="25.1" class="t1" textLength="34.14" lengthAdjust="spacingAndGlyphs">60</text>
<text x="151.47" y="25.1" class="t1" textLength="100.78" lengthAdjust="spacingAndGlyphs">Seconds</text>
<text x="0.41" y="45.9" class="t2" textLength="50.11" lengthAdjust="spacingAndGlyphs">Spike</text>
<text x="60.00" y="45.9" class="t2" textLength="41.83" lengthAdjust="spacingAndGlyphs">from</text>
<text x="110.07" y="45.9" class="t2" textLength="68.11" lengthAdjust="spacingAndGlyphs">historic</text>
<text x="186.00" y="45.9" class="t2" textLength="61.30" lengthAdjust="spacingAndGlyphs">OPEC+</text>
<text x="255.60" y="45.9" class="t2" textLength="39.24" lengthAdjust="spacingAndGlyphs">deal</text>
<text x="301.00" y="45.9" class="t2" textLength="101.49" lengthAdjust="spacingAndGlyphs">evaporated</text>
<text x="411.50" y="45.9" class="t2" textLength="63.19" lengthAdjust="spacingAndGlyphs">quickly</text>
<text x="4.10" y="445.7" class="src" textLength="179.13" lengthAdjust="spacingAndGlyphs">Source: ICE Futures Europe</text>
</svg>
</body></html>
